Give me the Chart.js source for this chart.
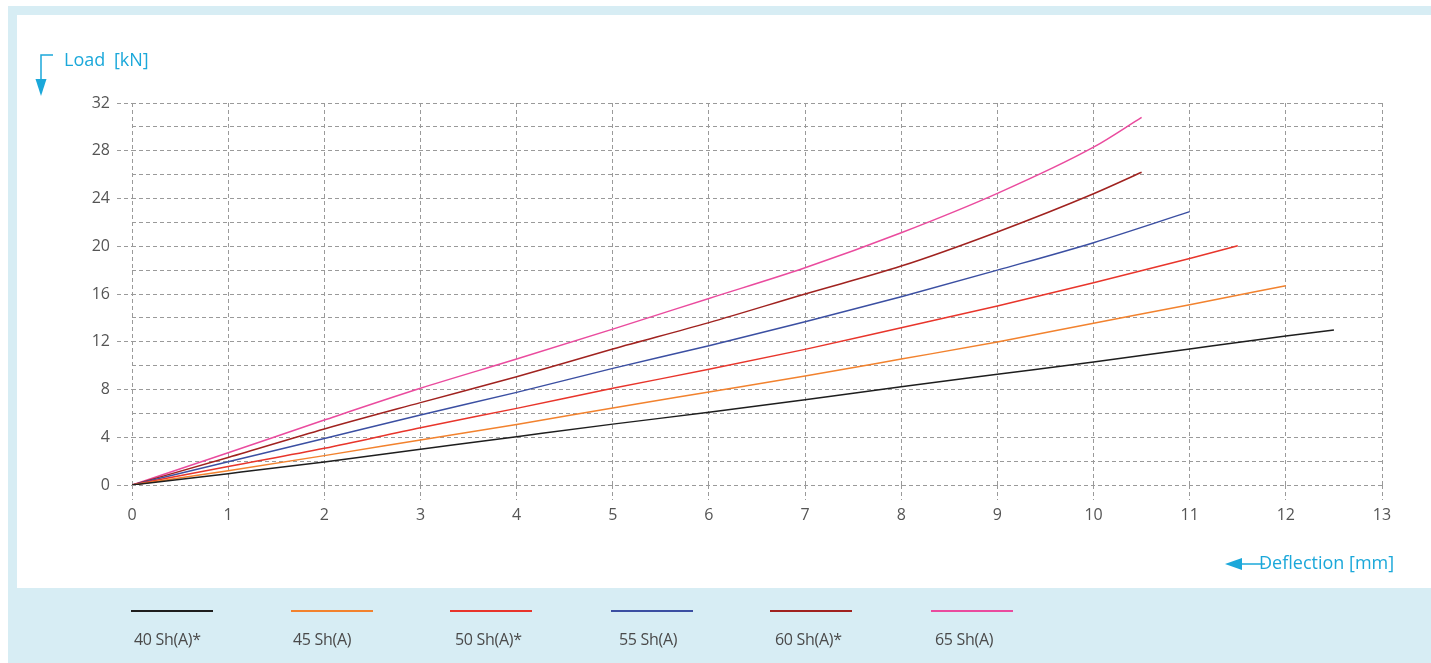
<!DOCTYPE html>
<html>
<head>
<meta charset="utf-8">
<title>Load / Deflection</title>
<script src="https://cdn.jsdelivr.net/npm/chart.js@4/dist/chart.umd.min.js"></script>
<style>
  html, body { margin: 0; padding: 0; background: #ffffff; }
  body { width: 1431px; height: 663px; position: relative; overflow: hidden; font-family: "Open Sans", sans-serif; }
  .frame { position: absolute; left: 8px; top: 6px; right: 0; bottom: 0; background: #d7edf4; }
  .panel { position: absolute; left: 17px; top: 15px; right: 0; height: 573px; background: #ffffff; }
  #wrap { position: absolute; left: 0; top: 0; width: 1431px; height: 663px; }
  .axis-title { position: absolute; color: #1ba8da; font-size: 18px; line-height: 1; white-space: nowrap; }
  .axis-title svg { position: absolute; overflow: visible; }
  #legend { position: absolute; left: 0; top: 588px; width: 1431px; height: 75px; }
  .lg-item { position: absolute; top: 22px; }
  .lg-line { position: absolute; left: 0; top: 0; width: 82px; height: 2px; }
  .lg-text { position: absolute; top: 18px; white-space: nowrap; color: #4a4a4a; font-size: 16px; letter-spacing: -0.3px; }
</style>
</head>
<body>
<div class="frame"></div>
<div class="panel"></div>
<div id="wrap"><canvas id="chart" width="1431" height="663"></canvas></div>

<div class="axis-title" style="left:64px; top:50px; word-spacing:4px;">
  <svg style="left:-26px; top:-2px;" width="20" height="45">
    <polyline points="15,7 3,7 3,32" fill="none" stroke="#1ba8da" stroke-width="1.5"/>
    <polygon points="-2.5,31 8.5,31 3,48" fill="#1ba8da"/>
  </svg>
  Load [kN]
</div>
<div class="axis-title" style="left:1259px; top:553px;">
  <svg style="left:-34px; top:0px;" width="40" height="20">
    <line x1="14" y1="11" x2="40" y2="11" stroke="#1ba8da" stroke-width="1.5"/>
    <polygon points="0,11 17,5 17,17" fill="#1ba8da"/>
  </svg>
  Deflection [mm]
</div>
<div id="legend"></div>

<script>
// Load [kN] against deflection [mm] for each hardness grade
const seriesNames = ['40 Sh(A)*', '45 Sh(A)', '50 Sh(A)*', '55 Sh(A)', '60 Sh(A)*', '65 Sh(A)'];

const deflection40 = [0, 1, 2, 3, 4, 5, 6, 7, 8, 9, 10, 11, 12, 12.5];
const load40       = [0, 0.95, 1.93, 2.99, 4.05, 5.1, 6.09, 7.15, 8.23, 9.27, 10.3, 11.4, 12.48, 12.98];

const deflection45 = [0, 1, 2, 3, 4, 5, 6, 7, 8, 9, 10, 11, 12];
const load45       = [0, 1.2, 2.46, 3.77, 5.07, 6.45, 7.79, 9.13, 10.55, 11.98, 13.55, 15.1, 16.7];

const deflection50 = [0, 1, 2, 3, 4, 5, 6, 7, 8, 9, 10, 11, 11.5];
const load50       = [0, 1.55, 3.07, 4.8, 6.42, 8.1, 9.69, 11.36, 13.18, 15.0, 16.95, 18.98, 20.05];

const deflection55 = [0, 1, 2, 3, 4, 5, 6, 7, 8, 9, 10, 11];
const load55       = [0, 1.95, 3.9, 5.86, 7.76, 9.77, 11.67, 13.68, 15.77, 18.0, 20.3, 22.9];

const deflection60 = [0, 1, 2, 3, 4, 5, 6, 7, 8, 9, 10, 10.5];
const load60       = [0, 2.3, 4.69, 6.9, 9.07, 11.39, 13.6, 16.0, 18.34, 21.2, 24.4, 26.2];

const deflection65 = [0, 1, 2, 3, 4, 5, 6, 7, 8, 9, 10, 10.5];
const load65       = [0, 2.7, 5.44, 8.1, 10.55, 13.06, 15.63, 18.2, 21.13, 24.43, 28.3, 30.8];

const xTicksMax = 13;   // deflection axis 0..13 mm
const yTicksMax = 32;   // load axis 0..32 kN

// styling
const lineColors = ['#1e1e1e', '#f2822e', '#e8352b', '#3b4fa2', '#a0221f', '#ea4b9e'];
const gridColor = '#9a9a9a';
const tickFont = { family: '"Open Sans", sans-serif', size: 16 };
const legendLeft = [131, 291, 450, 611, 770, 931];
const legendTextShift = [3, 2, 5, 8, 5, 4];

const xs = [deflection40, deflection45, deflection50, deflection55, deflection60, deflection65];
const ys = [load40, load45, load50, load55, load60, load65];

const datasets = seriesNames.map((name, i) => ({
  label: name,
  data: xs[i].map((x, k) => ({ x: x, y: ys[i][k] })),
  borderColor: lineColors[i],
  backgroundColor: lineColors[i],
  borderWidth: 1.5,
  pointRadius: 0,
  pointHoverRadius: 0,
  fill: false,
  cubicInterpolationMode: 'monotone'
}));

const chart = new Chart(document.getElementById('chart'), {
  type: 'line',
  data: { datasets },
  options: {
    responsive: false,
    animation: false,
    devicePixelRatio: 1,
    layout: { padding: { left: 17, top: 103, right: 49, bottom: 138 } },
    plugins: { legend: { display: false }, tooltip: { enabled: false } },
    scales: {
      x: {
        type: 'linear',
        min: 0,
        max: xTicksMax,
        afterFit: (s) => { s.height = 40; },
        border: { display: false, dash: [4, 3] },
        grid: {
          color: gridColor,
          lineWidth: 1,
          drawTicks: true,
          tickLength: 15,
          tickColor: gridColor,
          tickBorderDash: [4, 3]
        },
        ticks: { stepSize: 1, autoSkip: false, maxRotation: 0, padding: 6, color: '#555555', font: tickFont }
      },
      y: {
        type: 'linear',
        min: 0,
        max: yTicksMax,
        afterFit: (s) => { s.width = 115; },
        border: { display: false, dash: [4, 3] },
        grid: {
          color: gridColor,
          lineWidth: 1,
          drawTicks: true,
          tickLength: 15,
          tickColor: (ctx) => (ctx.tick && ctx.tick.value % 4 === 0) ? gridColor : 'rgba(0,0,0,0)',
          tickBorderDash: [4, 3]
        },
        ticks: {
          stepSize: 2,
          autoSkip: false,
          padding: 7,
          color: '#555555',
          font: tickFont,
          callback: (v) => (v % 4 === 0 ? String(v) : '')
        }
      }
    }
  }
});

// legend strip built from the chart's datasets
const legendEl = document.getElementById('legend');
chart.data.datasets.forEach((ds, i) => {
  const item = document.createElement('div');
  item.className = 'lg-item';
  item.style.left = legendLeft[i] + 'px';
  const line = document.createElement('div');
  line.className = 'lg-line';
  line.style.background = ds.borderColor;
  const text = document.createElement('div');
  text.className = 'lg-text';
  text.style.left = legendTextShift[i] + 'px';
  text.textContent = ds.label;
  item.appendChild(line);
  item.appendChild(text);
  legendEl.appendChild(item);
});
</script>
</body>
</html>
